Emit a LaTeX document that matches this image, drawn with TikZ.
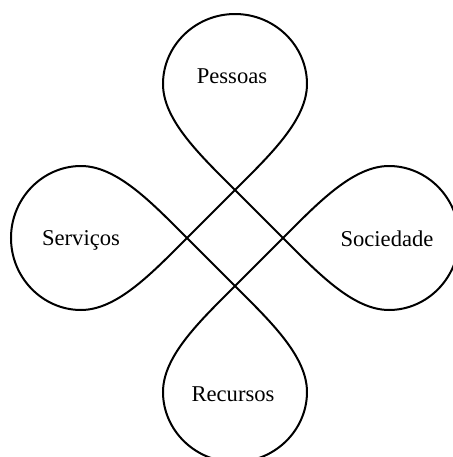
\documentclass[tikz,border=0pt]{standalone}
\usepackage{fontspec}
\setmainfont{Liberation Serif}

\begin{document}
\begin{tikzpicture}[x=0.5pt,y=0.5pt,line width=1pt,
  petaltext/.style={anchor=base,font=\fontsize{11.3}{13}\selectfont}]
\useasboundingbox (-235,-219) rectangle (218,238);
\clip (-235,-219) rectangle (218,238);
\draw (0,48) .. controls (-35,83) and (-72,118) .. (-72,154)
  .. controls (-72,192) and (-40,224) .. (0,224)
  .. controls (40,224) and (72,192) .. (72,154)
  .. controls (72,118) and (35,83) .. (0,48) -- (-48,0)
  .. controls (-83,-35) and (-118,-72) .. (-154,-72)
  .. controls (-192,-72) and (-224,-40) .. (-224,0)
  .. controls (-224,40) and (-192,72) .. (-154,72)
  .. controls (-118,72) and (-83,35) .. (-48,0) -- (0,-48)
  .. controls (35,-83) and (72,-118) .. (72,-154)
  .. controls (72,-192) and (40,-224) .. (0,-224)
  .. controls (-40,-224) and (-72,-192) .. (-72,-154)
  .. controls (-72,-118) and (-35,-83) .. (0,-48) -- (48,0)
  .. controls (83,35) and (118,72) .. (154,72)
  .. controls (192,72) and (224,40) .. (224,0)
  .. controls (224,-40) and (192,-72) .. (154,-72)
  .. controls (118,-72) and (83,-35) .. (48,0) -- cycle;
\node[petaltext] (pessoas) at (-3,155) {Pessoas};
\node[petaltext] (servicos) at (-154,-7) {Serviços};
\node[petaltext] (sociedade) at (152,-8) {Sociedade};
\node[petaltext] (recursos) at (-2,-163) {Recursos};
\end{tikzpicture}
\end{document}
